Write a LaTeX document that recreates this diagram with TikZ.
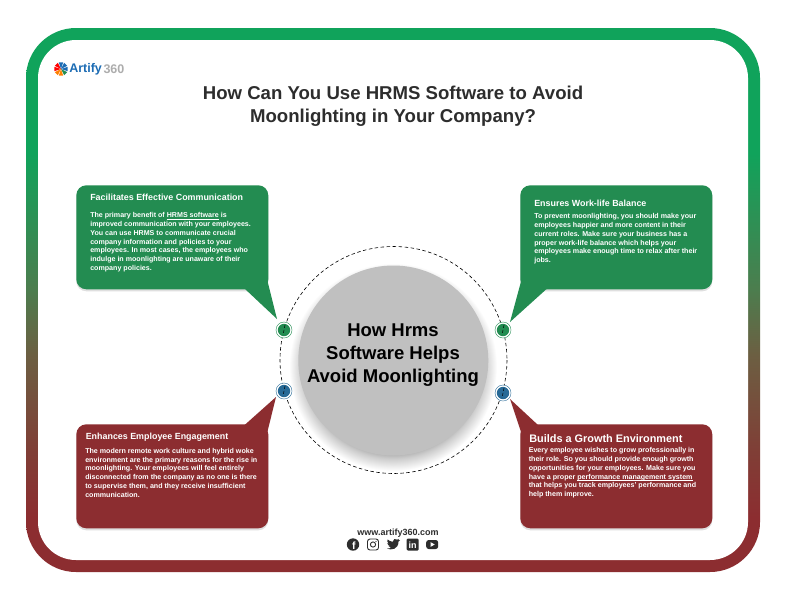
\documentclass[tikz,border=0pt]{standalone}
\usepackage{fontspec}
\setmainfont{Liberation Sans}
\usepackage{xcolor}
\usepackage{tikz}
\usetikzlibrary{calc,shadows}
\definecolor{boxgreen}{RGB}{35,140,81}
\definecolor{boxred}{RGB}{140,45,48}
\definecolor{dotblue}{RGB}{38,105,150}
\definecolor{logoblue}{RGB}{28,108,180}
\definecolor{titlegray}{RGB}{45,45,45}
\definecolor{framegreen}{RGB}{16,163,91}
\definecolor{frameolive}{RGB}{76,125,78}
\definecolor{framebrown}{RGB}{108,95,66}
\definecolor{framerust}{RGB}{128,62,54}
\definecolor{discgray}{RGB}{192,192,192}
\pgfdeclareverticalshading{framefade}{100bp}{color(0bp)=(boxred); color(30bp)=(boxred); color(36bp)=(framerust); color(45bp)=(framebrown); color(51bp)=(frameolive); color(63.5bp)=(framegreen); color(100bp)=(framegreen)}
\pgfdeclareradialshading{discglow}{\pgfpoint{0bp}{0bp}}{color(0bp)=(black!38); color(20bp)=(black!38); color(22bp)=(black!20); color(25bp)=(white); color(50bp)=(white)}
\newcommand{\lowline}[1]{\leavevmode\setbox0\hbox{#1}\rlap{\rule[-1pt]{\wd0}{0.45pt}}\box0\relax}

\begin{document}
\begin{tikzpicture}[x=1pt, y=-1pt, line width=0.6pt,
    boxnode/.style={inner sep=0pt, minimum width=192pt, minimum height=104pt, rounded corners=10pt, anchor=north west},
    boxgreenst/.style={boxnode, fill=boxgreen, drop shadow={shadow xshift=0pt, shadow yshift=-2pt, opacity=0.25}},
    boxredst/.style={boxnode, fill=boxred, drop shadow={shadow xshift=0pt, shadow yshift=-2pt, opacity=0.25}},
    headtext/.style={anchor=west, inner sep=0pt, text=white, font=\bfseries\fontsize{8.9}{11}\selectfont},
    bodytext/.style={anchor=north west, inner sep=0pt, align=left, text=white, font=\bfseries\fontsize{7.1}{8.75}\selectfont},
    ringdot/.style={circle, draw=#1, fill=white, line width=0.4pt, minimum size=16pt, inner sep=0pt},
    icon/.style={inner sep=0pt, text=white, font=\bfseries\fontsize{8}{8}\selectfont}]
    \useasboundingbox (0,0) rectangle (786,600);
    \fill[white] (0,0) rectangle (786,600);
    % frame
    \shade[shading=framefade, rounded corners=50pt] (26,28) rectangle (760,572);
    \fill[white, rounded corners=38pt] (38,40) rectangle (748,560);
    % logo wheel
    \foreach \a/\c in {0/logoblue,45/boxgreen,90/orange,135/orange,180/red,225/red,270/logoblue,315/logoblue}
        \fill[\c] (61,69) -- ++({\a-18}:7) arc[start angle=\a-18, end angle=\a+18, radius=7] -- cycle;
    \node[anchor=west, inner sep=0pt, text=logoblue, font=\bfseries\fontsize{12.5}{14}\selectfont] (logoname) at (69,69) {Artify};
    \node[anchor=west, inner sep=0pt, text=black!32, font=\bfseries\fontsize{12.5}{14}\selectfont] (logonum) at ($(logoname.east)+(1,0)$) {360};
    % title
    \node[align=center, text=titlegray, font=\bfseries\fontsize{18.6}{23}\selectfont] (title) at (393,106.5)
        {How Can You Use HRMS Software to Avoid\\Moonlighting in Your Company?};
    % centre disc
    \draw[black, line width=0.6pt, dash pattern=on 3.5pt off 2.5pt] (393.5,360) circle (113.5);
    \shade[shading=discglow] (393,367) circle (104);
    \fill[discgray] (393.3,360.5) circle (95);
    \node[align=center, font=\bfseries\fontsize{18.5}{23}\selectfont] (disc) at (393,355.5)
        {How Hrms\\Software Helps\\Avoid Moonlighting};
    % tips of the tails
    \coordinate (tipa) at (277,319);
    \coordinate (tipb) at (510,322);
    \coordinate (tipc) at (276,397);
    \coordinate (tipd) at (510,399);
    % boxes
    \node[boxgreenst] (boxa) at (76,185) {};
    \node[boxgreenst] (boxb) at (520,185) {};
    \node[boxredst] (boxc) at (76,424) {};
    \node[boxredst] (boxd) at (520,424) {};
    \fill[boxgreen] ($(boxa.south east)+(-24,-1)$) -- (tipa) -- ($(boxa.south east)+(-1,-8)$) -- cycle;
    \fill[boxgreen] ($(boxb.south west)+(27,-1)$) -- (tipb) -- ($(boxb.south west)+(1,-8)$) -- cycle;
    \fill[boxred] ($(boxc.north east)+(-24,1)$) -- (tipc) -- ($(boxc.north east)+(-1,7)$) -- cycle;
    \fill[boxred] ($(boxd.north west)+(18,1)$) -- (tipd) -- ($(boxd.north west)+(1,8)$) -- cycle;
    % dots on the ring
    \foreach \n/\p/\c in {dota/{(284,330)}/boxgreen,dotb/{(503,330)}/boxgreen,dotc/{(284,391)}/dotblue,dotd/{(503,393)}/dotblue}{
        \node[ringdot=\c] (\n) at \p {};
        \fill[\c] (\n) circle (6.2);
        \draw[black, line width=0.5pt, dash pattern=on 3pt off 2pt] ($(\n)+(1,-5)$) -- ($(\n)+(-1,5)$);
    }
    % texts
    \node[headtext] (heada) at (90,197) {Facilitates Effective Communication};
    \node[bodytext] (bodya) at (90,212.5) {The primary benefit of \lowline{HRMS software} is\\improved communication with your employees.\\You can use HRMS to communicate crucial\\company information and policies to your\\employees. In most cases, the employees who\\indulge in moonlighting are unaware of their\\company policies.};
    \node[headtext] (headb) at (534,203.5) {Ensures Work-life Balance};
    \node[bodytext] (bodyb) at (534,213.5) {To prevent moonlighting, you should make your\\employees happier and more content in their\\current roles. Make sure your business has a\\proper work-life balance which helps your\\employees make enough time to relax after their\\jobs.};
    \node[headtext] (headc) at (85.5,437.5) {Enhances Employee Engagement};
    \node[bodytext] (bodyc) at (85,448) {The modern remote work culture and hybrid woke\\environment are the primary reasons for the rise in\\moonlighting. Your employees will feel entirely\\disconnected from the company as no one is there\\to supervise them, and they receive insufficient\\communication.};
    \node[headtext, font=\bfseries\fontsize{10.9}{13}\selectfont] (headd) at (529,438.5) {Builds a Growth Environment};
    \node[bodytext] (bodyd) at (528.5,447.5) {Every employee wishes to grow professionally in\\their role. So you should provide enough growth\\opportunities for your employees. Make sure you\\have a proper \lowline{performance management system}\\that helps you track employees’ performance and\\help them improve.};
    % footer
    \node[text=titlegray, font=\bfseries\fontsize{9}{10}\selectfont] (site) at (398,533) {www.artify360.com};
    \fill[titlegray] (353,544.5) circle (6.2);
    \node[icon, font=\bfseries\fontsize{10.5}{10}\selectfont] (fb) at (353.8,545.5) {f};
    \draw[titlegray, line width=0.9pt, rounded corners=2.5pt] (367.5,539) rectangle (378.5,550);
    \draw[titlegray, line width=0.9pt] (373,544.5) circle (2.6);
    \fill[titlegray] (376,541.5) circle (0.7);
    \fill[titlegray] (387,548.5) .. controls (391,550.5) and (398.5,549.5) .. (398.5,541.5) -- (400,540) -- (398,540.3) -- (399.2,538.8) -- (397.2,539.6) .. controls (395.5,538) and (392.5,539) .. (392.8,541.8) .. controls (390.5,541.6) and (388.8,540.6) .. (387.6,539.4) .. controls (386.8,541) and (387.4,542.6) .. (388.6,543.4) -- (387.4,543.1) .. controls (387.5,544.6) and (388.5,545.6) .. (389.8,546) -- (388.6,546) .. controls (389,547) and (390,547.6) .. (391,547.6) .. controls (390,548.4) and (388.5,548.7) .. (387,548.5) -- cycle;
    \fill[titlegray, rounded corners=1.2pt] (406.7,538.5) rectangle (418.7,550.5);
    \node[icon, font=\bfseries\fontsize{9}{9}\selectfont] (li) at (412.7,545) {in};
    \fill[titlegray, rounded corners=2.5pt] (426.2,540) rectangle (438.2,549);
    \fill[white] (430.7,542.2) -- (434.7,544.5) -- (430.7,546.8) -- cycle;
\end{tikzpicture}
\end{document}
